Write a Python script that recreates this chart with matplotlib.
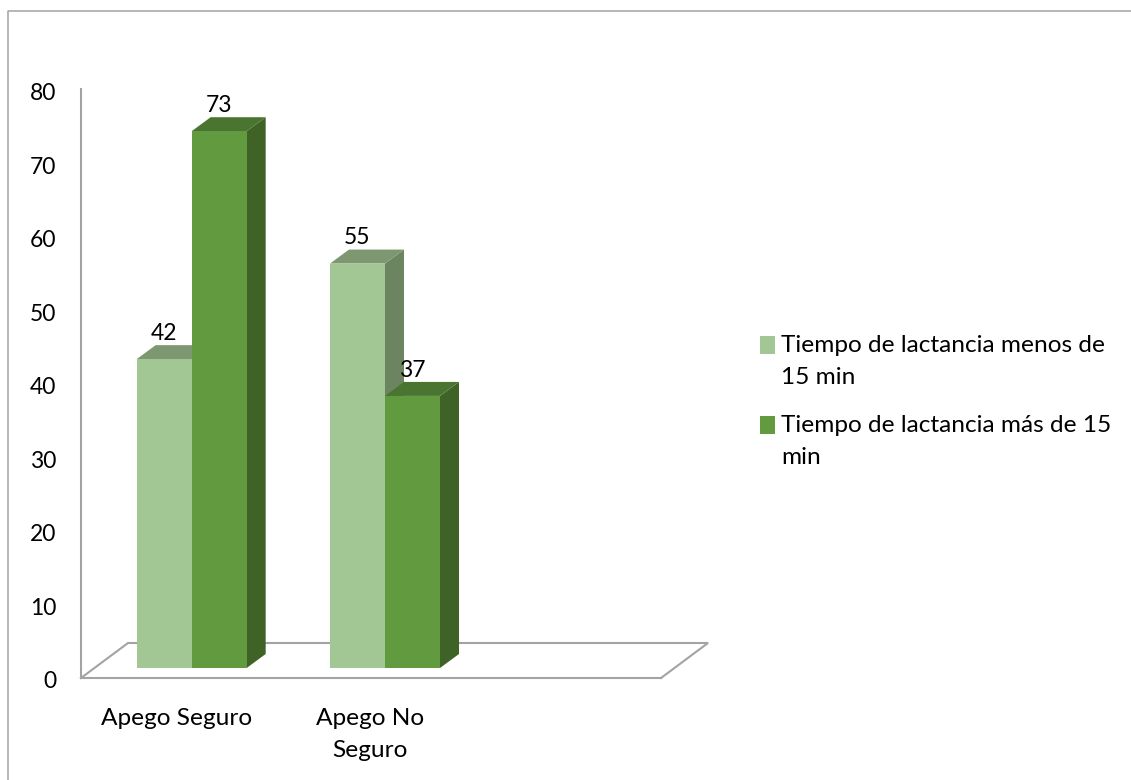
import matplotlib
matplotlib.use("Agg")
import matplotlib.pyplot as plt
from matplotlib.lines import Line2D
from matplotlib.patches import Patch, Polygon
from matplotlib.transforms import Affine2D

categories = ["Apego Seguro", "Apego No\nSeguro"]
series_names = ["Tiempo de lactancia menos de\n15 min", "Tiempo de lactancia más de 15\nmin"]
menos_15 = [42, 55]
mas_15 = [73, 37]
y_ticks = [0, 10, 20, 30, 40, 50, 60, 70, 80]

FRONT = ["#A3C794", "#629B3F"]
TOP = ["#7D9770", "#4A7530"]
SIDE = ["#6C8560", "#3F6327"]
GRAY = "#A3A3A3"
W, H = 1131, 780
FS = 17.6
FS_NUM = 16.5

plt.rcParams["font.family"] = ["Lato", "DejaVu Sans"]
fig = plt.figure(figsize=(W / 100, H / 100), dpi=100, facecolor="white")
ax = fig.add_axes([81 / W, 1 - 678 / H, 580 / W, 589 / H])
ax.set_xlim(-0.5, 2.5)
ax.set_ylim(0, 80.1)
ax.patch.set_alpha(0)

# outer chart frame
fig.add_artist(Line2D([8 / W, 8 / W, 1], [0, 1 - 11 / H, 1 - 11 / H], color=GRAY, lw=1.1))

# spines and ticks
for s in ["top", "right"]:
    ax.spines[s].set_visible(False)
for s in ["left", "bottom"]:
    ax.spines[s].set_color(GRAY)
    ax.spines[s].set_linewidth(1.5)
ax.set_yticks(y_ticks)
ax.set_xticks(range(len(categories)))
ax.set_xticklabels(categories, fontsize=FS, linespacing=1.63)
ax.tick_params(axis="y", length=0, pad=18, labelsize=FS_NUM)
ax.tick_params(axis="x", length=0, pad=21.5)
for lab in ax.get_yticklabels():
    lab.set_transform(lab.get_transform() + Affine2D().translate(0, -2))
for lab in ax.get_xticklabels():
    lab.set_transform(lab.get_transform() + Affine2D().translate(-1, 0))

# 3-D depth expressed in screen pixels
DX, DY = 19, 14
sx = (ax.get_xlim()[1] - ax.get_xlim()[0]) / 580
sy = (ax.get_ylim()[1] - ax.get_ylim()[0]) / 589
dx, dy = DX * sx, DY * sy

# floor
fx0, fx1 = ax.get_xlim()
fd_x, fd_y = 47 * sx, 35 * sy
ax.plot([fx0, fx0 + fd_x, fx1 + fd_x, fx1], [0, fd_y, fd_y, 0],
        color=GRAY, lw=1.5, clip_on=False, zorder=1, solid_joinstyle="miter")

shift = ax.transData + Affine2D().translate(14, 10)
bar_w = 55 / 193.3

for i in range(len(categories)):
    for j, values in enumerate([menos_15, mas_15]):
        v = values[i]
        left = i - bar_w + j * bar_w
        right = left + bar_w
        z = 3 + i * 3 + j * 3
        ax.add_patch(Polygon([(right, 0), (right + dx, dy), (right + dx, v + dy), (right, v)],
                             facecolor=SIDE[j], edgecolor="none", transform=shift,
                             clip_on=False, zorder=z))
        ax.add_patch(Polygon([(left, v), (left + dx, v + dy), (right + dx, v + dy), (right, v)],
                             facecolor=TOP[j], edgecolor="none", transform=shift,
                             clip_on=False, zorder=z))
        ax.bar(left + bar_w / 2, v, width=bar_w, color=FRONT[j], edgecolor="none",
               transform=shift, clip_on=False, zorder=z + 1)
        ax.annotate(str(v), (left + bar_w / 2, v), xycoords=shift, xytext=(0, 11),
                    textcoords="offset points", ha="center", va="bottom", fontsize=FS_NUM,
                    color="black", zorder=20, annotation_clip=False)

ax.set_xlim(-0.5, 2.5)
ax.set_ylim(0, 80.1)

handles = [Patch(facecolor=c, edgecolor="none") for c in FRONT]
leg = fig.legend(handles, series_names, loc="upper left",
                 bbox_to_anchor=(760 / W, 1 - 335 / H), frameon=False, fontsize=FS,
                 handlelength=0.61, handleheight=0.75, handletextpad=0.26,
                 labelspacing=1.08, borderpad=0, borderaxespad=0, labelcolor="black")
for t in leg.get_texts():
    t.set_linespacing(1.67)
for p in leg.get_patches():
    p.set_y(p.get_y() + 12)

fig.savefig("out.png", dpi=100, facecolor="white")
